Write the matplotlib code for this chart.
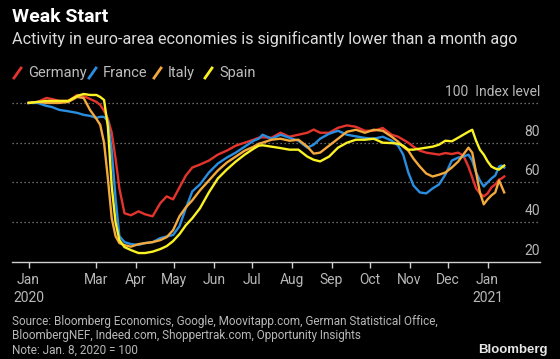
"""
Weak Start - euro-area activity index, Bloomberg style
"""
import matplotlib
matplotlib.use("Agg")
import matplotlib.pyplot as plt
from matplotlib.lines import Line2D
import pandas as pd

dates = pd.to_datetime([
    "2020-01-08", "2020-01-15", "2020-01-22", "2020-01-26", "2020-02-01", "2020-02-08",
    "2020-02-15", "2020-02-20", "2020-02-25", "2020-03-01", "2020-03-04", "2020-03-07",
    "2020-03-10", "2020-03-13", "2020-03-16", "2020-03-19", "2020-03-23", "2020-03-28",
    "2020-04-03", "2020-04-08", "2020-04-14", "2020-04-20", "2020-04-25", "2020-04-30",
    "2020-05-05", "2020-05-10", "2020-05-15", "2020-05-21", "2020-05-28", "2020-06-04",
    "2020-06-11", "2020-06-18", "2020-06-25", "2020-07-02", "2020-07-06", "2020-07-09",
    "2020-07-16", "2020-07-23", "2020-07-30", "2020-08-06", "2020-08-13", "2020-08-18",
    "2020-08-23", "2020-08-30", "2020-09-06", "2020-09-13", "2020-09-20", "2020-09-27",
    "2020-10-04", "2020-10-11", "2020-10-18", "2020-10-23", "2020-10-27", "2020-10-31",
    "2020-11-04", "2020-11-09", "2020-11-14", "2020-11-19", "2020-11-24", "2020-11-29",
    "2020-12-04", "2020-12-09", "2020-12-13", "2020-12-17", "2020-12-20", "2020-12-23",
    "2020-12-26", "2020-12-29", "2021-01-01", "2021-01-04", "2021-01-07", "2021-01-10",
    "2021-01-12", "2021-01-14",
])

germany = [100, 100.5, 102.5, 102, 101, 101, 104, 103.5, 102, 100.5, 99, 96,
           92, 85, 72, 57, 44.5, 43.5, 45.5, 44, 43, 49.6, 53, 51.5,
           57.5, 63.5, 67.5, 69, 71, 74, 76, 78.5, 80, 81.5, 82.5, 82.7,
           82.5, 85, 83, 84, 85, 86.6, 85, 85, 87.5, 88.7, 88, 86,
           86, 87.4, 84, 83, 81.5, 80, 78, 76, 75, 74.5, 74, 74.8,
           74.3, 75, 73.5, 68, 62.5, 57, 54.5, 53, 54.5, 57.5, 59, 61.5,
           62, 63]
france = [100, 100, 98.5, 98, 96.5, 95.8, 95, 94, 93.5, 92.5, 93, 93,
          91, 76, 52, 33, 30, 29, 28.6, 29.5, 30, 32, 32.8, 33.6,
          38, 47, 55.5, 59, 65, 69.5, 72.5, 75, 78, 81, 82, 84,
          82, 84, 82.5, 81, 77.5, 79, 82, 84.5, 86, 84, 83.2, 82.4,
          82, 83, 81, 78.5, 74, 65, 58.5, 55, 54.5, 57, 59, 64,
          71, 72.5, 73, 74, 71, 65, 61, 58, 60, 62, 63.5, 68,
          68.5, 67.5]
italy = [100, 100.5, 100, 100, 100, 100.5, 103, 102.5, 96.5, 92, 89, 80,
         62, 42, 33, 29.5, 28.5, 27.7, 29, 29.5, 30, 31, 32.5, 36,
         43, 47.5, 51, 56, 61, 66, 70, 73, 76, 78, 79.5, 80,
         81.5, 82, 81, 81.5, 78, 74.5, 75, 78.5, 82, 85.5, 86.5, 85,
         86.5, 86, 83, 80.5, 78, 76, 72, 68, 64.5, 63, 63.9, 65,
         67.5, 70.5, 74, 77.5, 75, 65, 55, 49, 51.5, 53.5, 55, 61,
         58, 55]
spain = [100, 100.5, 101, 101, 101, 101, 103.5, 104.5, 104, 104, 103, 101.5,
         88, 58, 40, 31, 27.5, 26, 24.5, 24.5, 25.2, 26.5, 28, 30.5,
         34, 38.5, 42, 47, 55, 62, 66.5, 70.5, 74, 77, 78.5, 78.7,
         78, 77.3, 76.5, 76.5, 73, 71.4, 70.6, 73, 77.5, 80, 81.5, 81.5,
         82, 80, 79.8, 79.5, 78.5, 76.5, 76.5, 77, 77.5, 78, 79, 81,
         80.7, 82.5, 84, 85.5, 86.5, 81, 76.5, 74, 70.6, 68, 67, 66.5,
         67.5, 68.5]

series_names = ["Germany", "France", "Italy", "Spain"]
series_colors = ["#e4342c", "#2a8ee0", "#f4a93c", "#fbf224"]

tick_dates = pd.to_datetime(["2020-01-08", "2020-03-01", "2020-04-01", "2020-05-01",
                             "2020-06-01", "2020-07-01", "2020-08-01", "2020-09-01",
                             "2020-10-01", "2020-11-01", "2020-12-01", "2021-01-01"])
tick_labels = ["Jan\n2020", "Mar", "Apr", "May", "Jun", "Jul", "Aug", "Sep",
               "Oct", "Nov", "Dec", "Jan\n2021"]
y_levels = [20, 40, 60, 80, 100]
y_labels = ["20", "40", "60", "80", "100  Index level"]

plt.rcParams['font.family'] = ['Roboto', 'DejaVu Sans']

W, H = 560, 359
fig = plt.figure(figsize=(W / 100, H / 100), dpi=100, facecolor='black')
ax = fig.add_axes([12 / W, 1 - 262 / H, 528 / W, (262 - 91) / H])
ax.set_facecolor('black')

for vals, color in zip([germany, france, italy, spain], series_colors):
    ax.plot(dates, vals, color=color, lw=1.7, solid_joinstyle='round')

ax.set_xlim(pd.Timestamp("2019-12-26"), pd.Timestamp("2021-02-11"))
ax.set_ylim(20, 106)

# dotted gridlines
for v in y_levels[1:]:
    ax.axhline(v, color='#8c8c8c', lw=0.9, ls=(0, (1, 2.2)), zorder=0)

for s in ['top', 'left', 'right']:
    ax.spines[s].set_visible(False)
ax.spines['bottom'].set_color('#d0d0d0')
ax.spines['bottom'].set_linewidth(1.0)

ax.set_yticks([])
ax.set_xticks(tick_dates)
ax.set_xticklabels(tick_labels, linespacing=1.35)
ax.tick_params(axis='x', colors='#d0d0d0', labelcolor='#b8b8b8', direction='out',
               length=4, width=1, pad=4, labelsize=10)

# y labels sit above gridlines at the right edge
for v, lab in zip(y_levels, y_labels):
    ax.annotate(lab, xy=(1, v), xycoords=('axes fraction', 'data'), xytext=(0, 3),
                textcoords='offset points', ha='right', va='bottom',
                color='#b8b8b8', fontsize=10)

# titles
fig.text(12 / W, 1 - 17 / H, "Weak Start", color='white', fontsize=14,
         fontweight='bold', va='center', ha='left')
fig.text(12 / W, 1 - 39 / H,
         "Activity in euro-area economies is significantly lower than a month ago",
         color='#dcdcdc', fontsize=11.6, va='center', ha='left')

# legend with slash markers
leg_x = [13, 88, 153, 204]
for x0, name, color in zip(leg_x, series_names, series_colors):
    fig.add_artist(Line2D([(x0 + 1) / W, (x0 + 8) / W], [1 - 78 / H, 1 - 68 / H],
                          color=color, lw=2))
    fig.text((x0 + 15) / W, 1 - 73 / H, name, color='#bdbdbd', fontsize=10.5,
             va='center', ha='left')

# footer
fig.text(12 / W, 1 - 322 / H,
         "Source: Bloomberg Economics, Google, Moovitapp.com, German Statistical Office,",
         color='#b8b8b8', fontsize=8.5, va='center', ha='left')
fig.text(12 / W, 1 - 336 / H,
         "BloombergNEF, Indeed.com, Shoppertrak.com, Opportunity Insights",
         color='#b8b8b8', fontsize=8.5, va='center', ha='left')
fig.text(12 / W, 1 - 350 / H, "Note: Jan. 8, 2020 = 100",
         color='#b8b8b8', fontsize=8.5, va='center', ha='left')
fig.text(548 / W, 1 - 350 / H, "Bloomberg", color='#e6e6e6', fontsize=9.5,
         fontweight='bold', va='center', ha='right', family=['Liberation Sans', 'DejaVu Sans'])

fig.savefig('out.png', dpi=100, facecolor='black')
